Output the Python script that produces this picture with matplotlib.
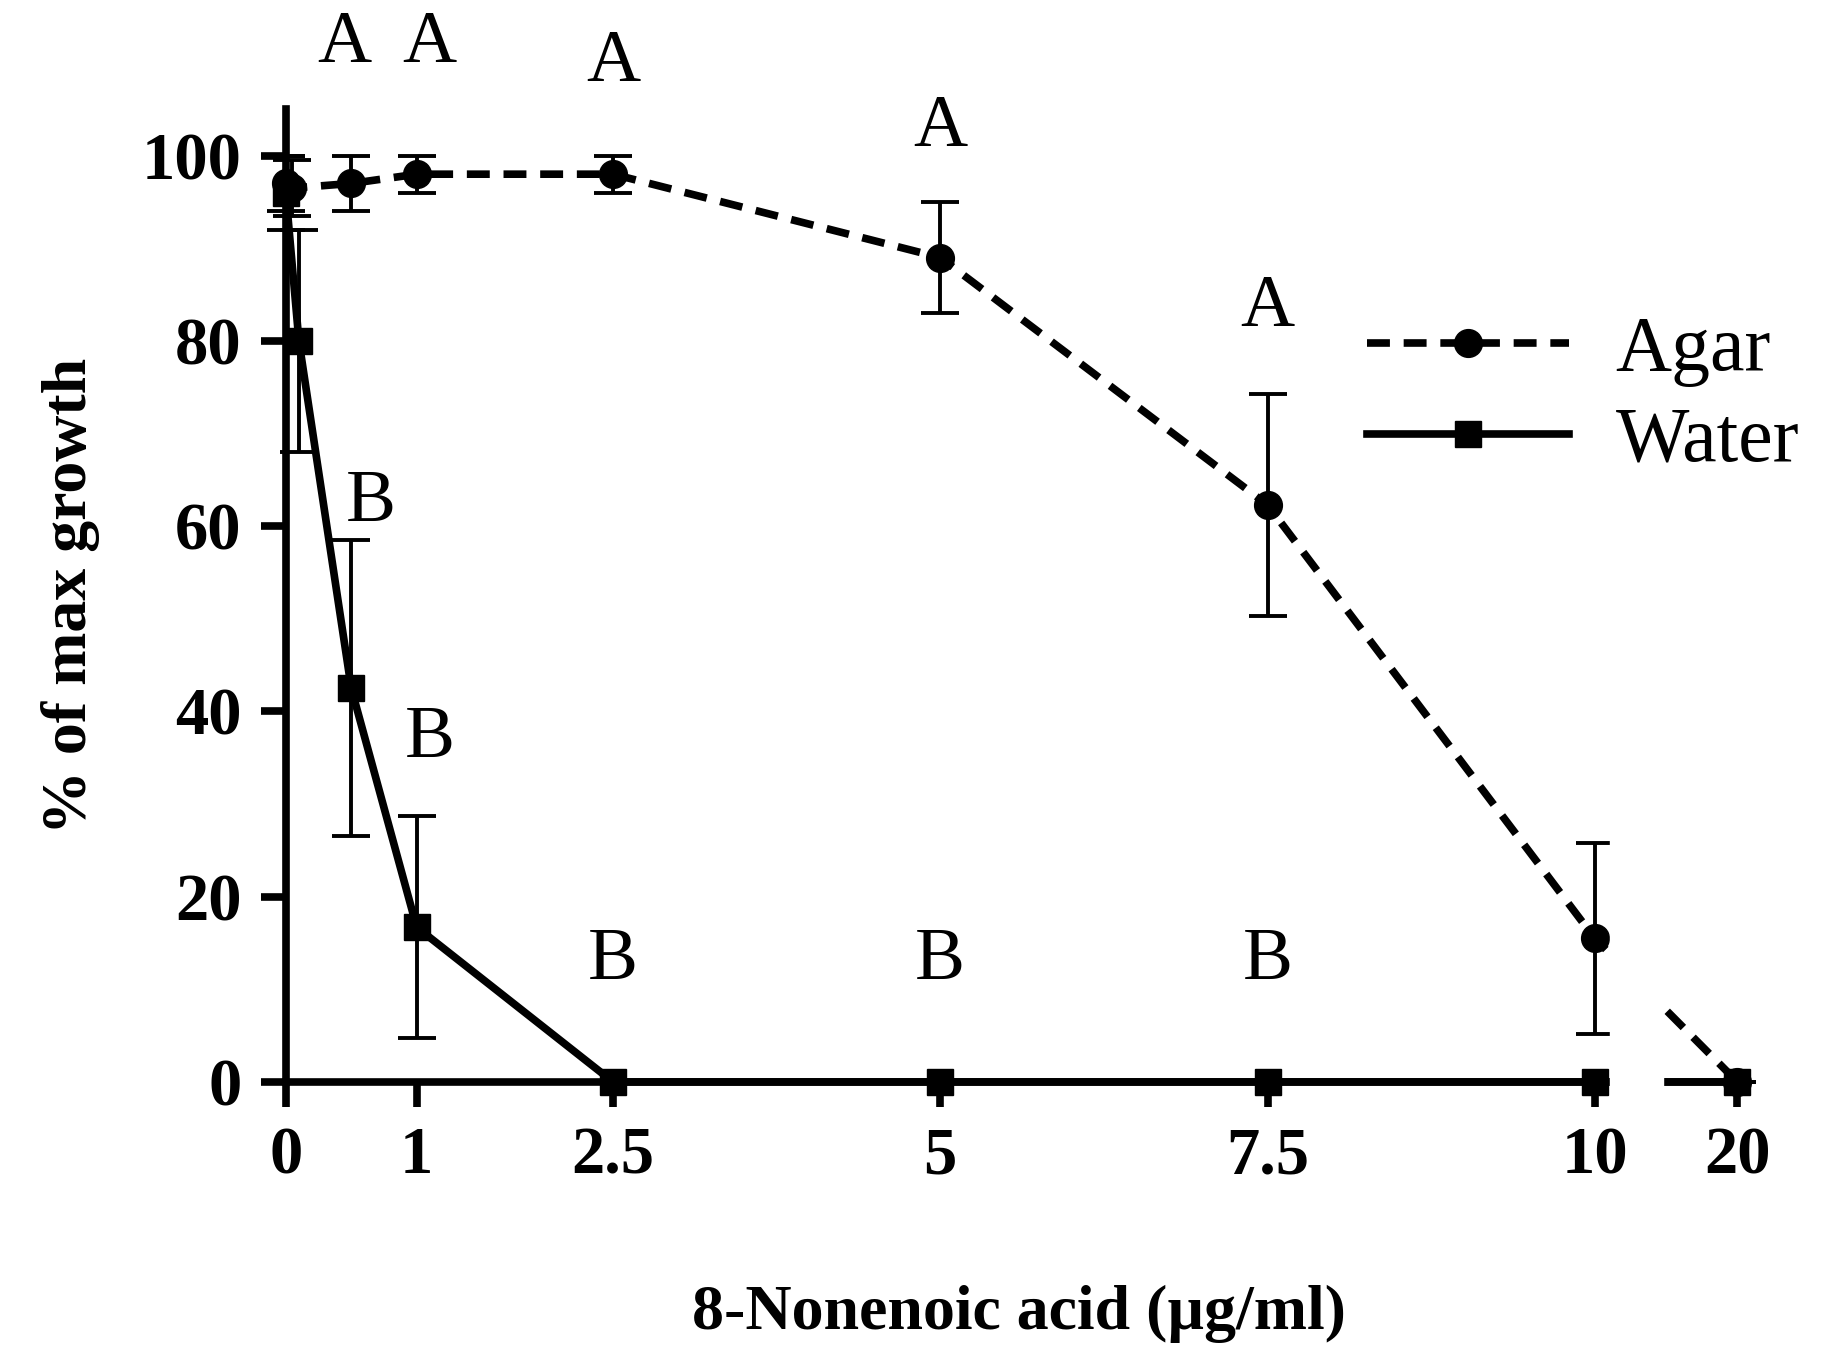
import matplotlib
matplotlib.use("Agg")
import matplotlib.pyplot as plt
from matplotlib.lines import Line2D

# concentrations; 20 is drawn at position 11.09 past the axis break
conc_labels = ["0", "1", "2.5", "5", "7.5", "10", "20"]
tick_pos = [0, 1, 2.5, 5, 7.5, 10, 11.09]

agar_x = [0, 0.05, 0.5, 1, 2.5, 5, 7.5, 10, 11.09]
agar_y = [97, 96.5, 97, 98, 98, 89, 62.3, 15.5, 0]
agar_err = [3, 3, 3, 2, 2, 6, 12, 10.3, 0]

water_x = [0, 0.1, 0.5, 1, 2.5, 5, 7.5, 10, 11.09]
water_y = [96, 80, 42.5, 16.7, 0, 0, 0, 0, 0]
water_err = [4, 12, 16, 12, 0, 0, 0, 0, 0]

letters = [("A", 0.45, 112), ("A", 1.1, 112), ("A", 2.5, 110), ("A", 5, 103), ("A", 7.5, 83.5),
           ("B", 0.65, 62.5), ("B", 1.1, 37), ("B", 2.5, 13), ("B", 5, 13), ("B", 7.5, 13)]

plt.rcParams['font.family'] = ['Liberation Serif', 'DejaVu Serif']
fig = plt.figure(figsize=(18.44, 13.5), dpi=100)
ax = fig.add_axes([0.155, 0.1986, 0.795, 0.7204])
lw = 5.5
dash = (0, (3, 1.8))
ax.errorbar(agar_x, agar_y, yerr=agar_err, color="black", lw=lw, ls=dash, marker="o", ms=20,
            capsize=14, elinewidth=2.8, capthick=2.8, clip_on=False, zorder=3)
ax.errorbar(water_x, water_y, yerr=water_err, color="black", lw=lw, ls="-", marker="s", ms=19,
            capsize=14, elinewidth=2.8, capthick=2.8, clip_on=False, zorder=3)
# axis break
ax.axvspan(10.12, 10.52, ymin=-0.02, ymax=0.6, color="white", zorder=4, clip_on=False)

ax.set_xlim(0, 11.2)
ax.set_ylim(0, 105)
for s in ["top", "right"]:
    ax.spines[s].set_visible(False)
ax.spines["left"].set_linewidth(lw)
ax.spines["bottom"].set_linewidth(lw)
ax.spines["bottom"].set_bounds(0, 11.09)
ax.set_xticks(tick_pos)
ax.set_xticklabels(conc_labels)
ax.set_yticks([0, 20, 40, 60, 80, 100])
ax.tick_params(width=lw, length=18, labelsize=48, pad=14)
for t in ax.get_xticklabels() + ax.get_yticklabels():
    t.set_fontweight("bold")
ax.set_xlabel("8-Nonenoic acid (µg/ml)", fontsize=46, fontweight="bold", labelpad=70)
ax.set_ylabel("% of max growth", fontsize=46, fontweight="bold", labelpad=30)

for txt, x, y in letters:
    ax.text(x, y, txt, fontsize=54, ha="center", va="center", clip_on=False)

handles = [Line2D([], [], color="black", lw=lw, ls=dash, marker="o", ms=20),
           Line2D([], [], color="black", lw=lw, ls="-", marker="s", ms=19)]
ax.legend(handles, ["Agar", "Water"], loc="upper right", bbox_to_anchor=(1.08, 0.86), frameon=False,
          fontsize=56, handlelength=2.6, labelspacing=0.25, handletextpad=0.6)

fig.savefig("out.png", dpi=100)
